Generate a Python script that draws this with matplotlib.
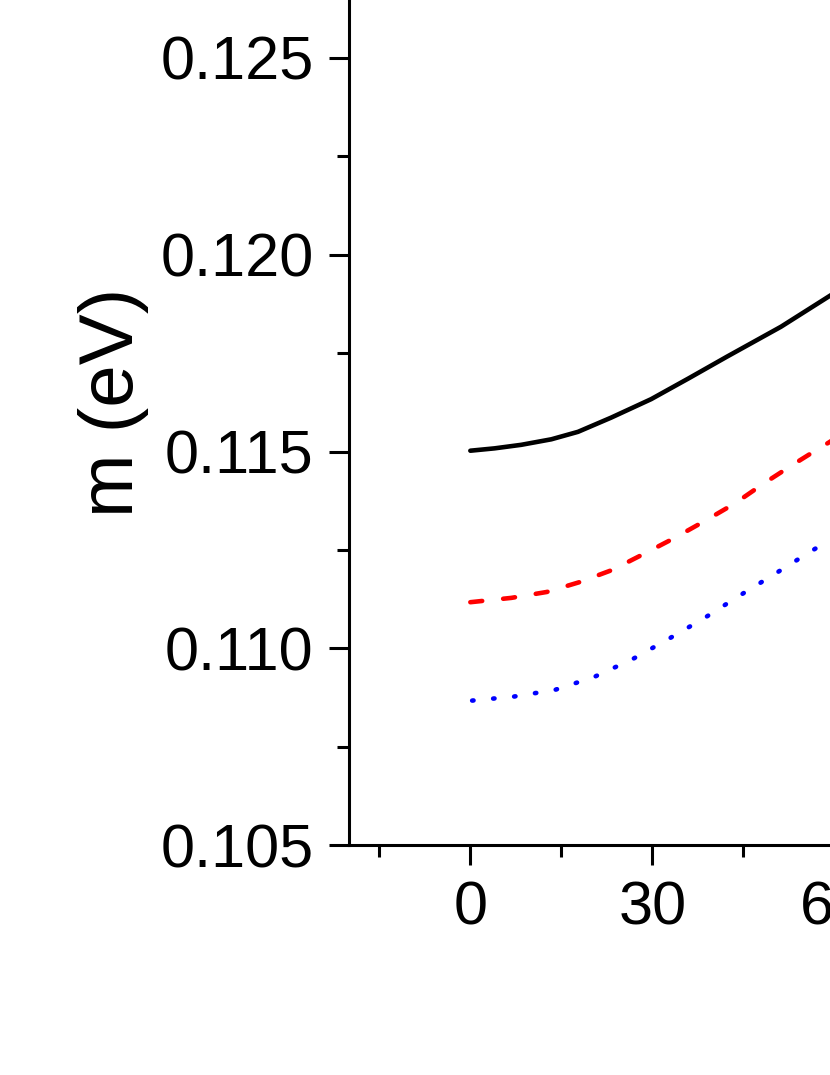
import matplotlib
matplotlib.use("Agg")
import matplotlib.pyplot as plt
from matplotlib.ticker import MultipleLocator, FormatStrFormatter

plt.rcParams['font.family'] = ['Liberation Sans', 'DejaVu Sans']

# Data read from the (cropped) reference
x_black = [0, 4.0, 8.4, 13.35, 17.75, 23.2, 29.8, 36.0, 42.3, 51.2, 59.5, 60.5]
y_black = [0.11502, 0.11508, 0.11517, 0.11531, 0.11550, 0.11586, 0.11633, 0.11686,
           0.11741, 0.11817, 0.11898, 0.11908]

x_red = [0, 6.76, 12.6, 18.0, 23.4, 28.5, 33.5, 38.6, 43.6, 48.2, 52.9, 57.9, 59.0, 60.5]
y_red = [0.11117, 0.11128, 0.11143, 0.11168, 0.11199, 0.11239, 0.11279, 0.11323,
         0.11368, 0.11417, 0.11464, 0.11512, 0.11522, 0.11537]

x_blue = [0.3, 7.1, 13.9, 20.4, 26.7, 32.6, 38.5, 44.3, 50.2, 56.0, 59.0, 60.5]
y_blue = [0.10867, 0.10877, 0.10894, 0.10927, 0.10972, 0.11023, 0.11076, 0.11133,
          0.11189, 0.11245, 0.11273, 0.11287]

x_ticks = [0, 30, 60, 90]
y_ticks = [0.105, 0.110, 0.115, 0.120, 0.125]
y_label = "m (eV)"

fig = plt.figure(figsize=(8.3, 10.75), dpi=100)
W, H = 830, 1075
left_px, bottom_px = 349, 845
px_per_x = 182 / 30.0
px_per_y = 39350.0
xlim = (-20, 120)
ylim = (0.105, 0.1275)
w_px = (xlim[1] - xlim[0]) * px_per_x
h_px = (ylim[1] - ylim[0]) * px_per_y
ax = fig.add_axes([left_px / W, (H - bottom_px) / H, w_px / W, h_px / H])

lw = 3.3
ax.plot(x_black, y_black, color='black', lw=lw, solid_capstyle='round',
        solid_joinstyle='round')
ax.plot(x_red, y_red, color='#ff0000', lw=lw, linestyle=(0, (2.6, 4.6)),
        dash_capstyle='round')
ax.plot(x_blue, y_blue, color='#0000ff', lw=lw, linestyle=(0, (0.3, 4.3)),
        dash_capstyle='round')

ax.set_xlim(*xlim)
ax.set_ylim(*ylim)
ax.set_xticks(x_ticks)
ax.set_yticks(y_ticks)
ax.xaxis.set_minor_locator(MultipleLocator(15))
ax.yaxis.set_minor_locator(MultipleLocator(0.0025))
ax.yaxis.set_major_formatter(FormatStrFormatter('%.3f'))

for s in ax.spines.values():
    s.set_linewidth(2.2)
ax.tick_params(which='major', direction='out', length=14.5, width=2.2,
               labelsize=44, pad=11)
ax.tick_params(which='minor', direction='out', length=8.5, width=2.2)

ax.set_ylabel(y_label, fontsize=55, labelpad=8)

fig.savefig('out.png', dpi=100)
